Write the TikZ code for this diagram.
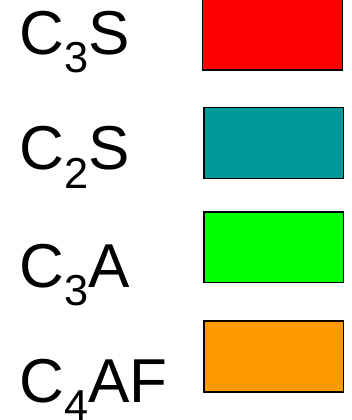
\documentclass[tikz,border=0pt]{standalone}
\usepackage{fontspec}
\setmainfont{Liberation Sans}
\definecolor{cred}{HTML}{FF0000}
\definecolor{cteal}{HTML}{009999}
\definecolor{cgreen}{HTML}{00FF00}
\definecolor{corange}{HTML}{FF9900}
\newcommand{\chemsub}[1]{\raisebox{-13.5pt}{\fontsize{32.5}{36}\selectfont #1}}
\begin{document}
\begin{tikzpicture}[x=0.75pt,y=-0.75pt,
  lbl/.style={anchor=base west,inner sep=0pt,font=\fontsize{46.5}{54}\selectfont},
  swatch/.style={draw=black,line width=1.1pt}]
\useasboundingbox (0,0) rectangle (351,420);
\node[lbl] (t1) at (19.5,55) {C\chemsub{3}S};
\node[lbl] (t2) at (19.5,170) {C\chemsub{2}S};
\node[lbl] (t3) at (19.5,287.7) {C\chemsub{3}A};
\node[lbl] (t4) at (19.5,402.7) {C\chemsub{4}AF};
\draw[swatch,fill=cred] (202.5,-2) rectangle (342.5,70);
\draw[swatch,fill=cteal] (204,107.5) rectangle (343.5,178.5);
\draw[swatch,fill=cgreen] (204,212) rectangle (343.5,282.5);
\draw[swatch,fill=corange] (204,321) rectangle (343.5,392);
\end{tikzpicture}
\end{document}
